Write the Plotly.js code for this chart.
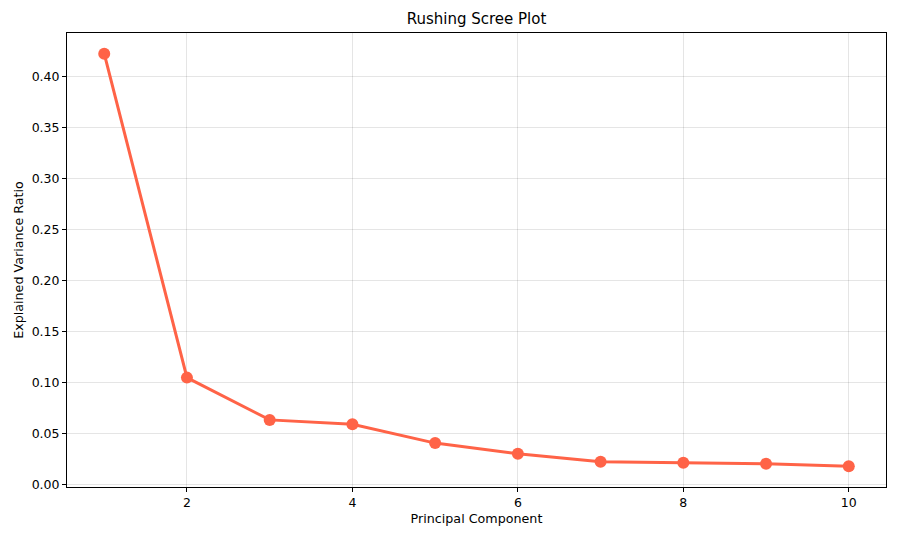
<!DOCTYPE html>
<html>
<head>
<meta charset="utf-8">
<script src="https://cdn.plot.ly/plotly-3.0.1.min.js"></script>
<style>html,body{margin:0;padding:0;background:#fff;}#chart{width:900px;height:540px;}</style>
</head>
<body>
<div id="chart"></div>
<script>
const components = [1, 2, 3, 4, 5, 6, 7, 8, 9, 10];
const varianceRatio = [0.4229, 0.1048, 0.0633, 0.0591, 0.0405, 0.0300, 0.0222, 0.0212, 0.0203, 0.0177];

const trace = {
  x: components,
  y: varianceRatio,
  type: 'scatter',
  mode: 'lines+markers',
  line: {color: '#FF6347', width: 3},
  marker: {color: '#FF6347', size: 12},
  hoverinfo: 'x+y'
};

const axisCommon = {
  showline: true,
  linecolor: '#000',
  linewidth: 1,
  mirror: true,
  ticks: 'outside',
  ticklen: 4,
  tickcolor: '#000',
  showgrid: true,
  gridcolor: 'rgba(0,0,0,0.1)',
  gridwidth: 1,
  zeroline: false,
  tickfont: {family: 'DejaVu Sans', size: 12.5, color: '#000'}
};

const layout = {
  width: 900,
  height: 540,
  margin: {l: 67, r: 14, t: 33, b: 53},
  paper_bgcolor: '#fff',
  plot_bgcolor: '#fff',
  showlegend: false,
  title: {text: 'Rushing Scree Plot', font: {family: 'DejaVu Sans', size: 15, color: '#000'}, xref: 'paper', x: 0.5, xanchor: 'center', y: 0.965, yanchor: 'middle'},
  xaxis: Object.assign({}, axisCommon, {
    range: [0.55, 10.45],
    tickvals: [2, 4, 6, 8, 10],
    title: {text: 'Principal Component', font: {family: 'DejaVu Sans', size: 12.7, color: '#000'}, standoff: 5}
  }),
  yaxis: Object.assign({}, axisCommon, {
    range: [-0.0026, 0.4432],
    tickvals: [0, 0.05, 0.10, 0.15, 0.20, 0.25, 0.30, 0.35, 0.40],
    tickformat: '.2f',
    title: {text: 'Explained Variance Ratio', font: {family: 'DejaVu Sans', size: 12.7, color: '#000'}, standoff: 5}
  })
};

Plotly.newPlot('chart', [trace], layout, {displayModeBar: false, staticPlot: true});
</script>
</body>
</html>
